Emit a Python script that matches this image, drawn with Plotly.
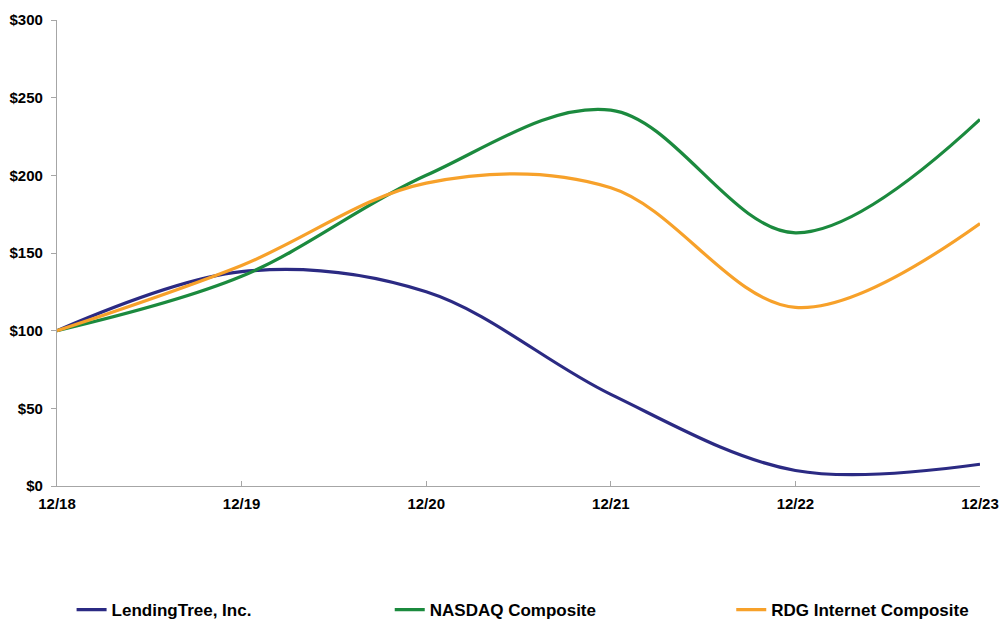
import plotly.graph_objects as go

periods = ["12/18", "12/19", "12/20", "12/21", "12/22", "12/23"]
lendingtree = [100, 138, 125, 59, 10, 14]
nasdaq = [100, 135, 200, 242, 163, 236]
rdg = [100, 142, 195, 192, 115, 169]

series = [
    ("LendingTree, Inc.", lendingtree, "#2B2A83", "legend", 0.0158),
    ("NASDAQ Composite", nasdaq, "#1B8A3E", "legend2", 0.3605),
    ("RDG Internet Composite", rdg, "#F7A12A", "legend3", 0.7305),
]

FONT = "Liberation Sans, Arial, sans-serif"

fig = go.Figure()
for name, vals, color, leg, _ in series:
    fig.add_trace(go.Scatter(
        x=periods, y=vals, name=name, mode="lines",
        line=dict(color=color, width=3.2, shape="spline", smoothing=1.0),
        legend=leg,
    ))

leg_common = dict(orientation="h", yref="container", y=0.0145, yanchor="middle",
                  xanchor="left",
                  font=dict(family=FONT, size=17, color="#000000", weight="bold"),
                  bgcolor="rgba(0,0,0,0)", borderwidth=0)
legends = {}
for name, vals, color, leg, xpos in series:
    legends[leg] = dict(leg_common, x=xpos)

fig.update_layout(
    width=1000, height=619,
    margin=dict(l=57, r=20, t=20, b=133),
    paper_bgcolor="white", plot_bgcolor="white",
    showlegend=True,
    font=dict(family=FONT, color="#000000"),
    xaxis=dict(
        type="category", range=[0, 5], automargin=False,
        showgrid=False, zeroline=False,
        showline=True, linecolor="#A6A6A6", linewidth=1.2,
        ticks="inside", ticklen=5, tickcolor="#A6A6A6",
        ticklabelstandoff=4,
        tickfont=dict(family=FONT, size=15, color="#000000", weight="bold"),
    ),
    yaxis=dict(
        range=[0, 300], automargin=False,
        tickvals=[0, 50, 100, 150, 200, 250, 300],
        ticktext=["$0", "$50", "$100", "$150", "$200", "$250", "$300"],
        showgrid=False, zeroline=False,
        showline=True, linecolor="#A6A6A6", linewidth=1.2,
        ticks="outside", ticklen=5, tickcolor="#A6A6A6",
        ticklabelstandoff=5,
        tickfont=dict(family=FONT, size=15, color="#000000", weight="bold"),
    ),
    **legends,
)

fig.write_html(
    "out.html",
    config={"displayModeBar": False},
    post_script="document.body.style.margin='0';document.body.style.overflow='hidden';",
)
